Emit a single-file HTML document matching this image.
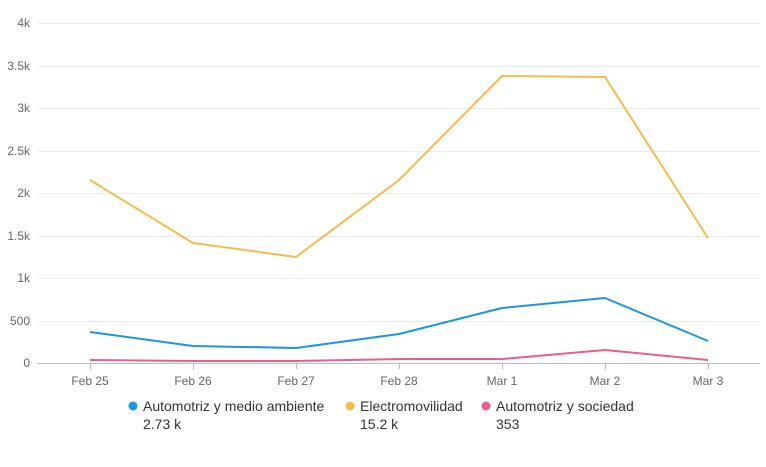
<!DOCTYPE html>
<html><head><style>
body{margin:0;background:#fff;}
svg text{font-family:"Liberation Sans",Arial,sans-serif;}
</style></head><body>
<svg width="766" height="462" xmlns="http://www.w3.org/2000/svg">
<g stroke="#ebebeb" stroke-width="1">
<line x1="38" x2="760" y1="23.5" y2="23.5"/>
<line x1="38" x2="760" y1="66.5" y2="66.5"/>
<line x1="38" x2="760" y1="108.5" y2="108.5"/>
<line x1="38" x2="760" y1="151.5" y2="151.5"/>
<line x1="38" x2="760" y1="193.5" y2="193.5"/>
<line x1="38" x2="760" y1="236.5" y2="236.5"/>
<line x1="38" x2="760" y1="278.5" y2="278.5"/>
<line x1="38" x2="760" y1="321.5" y2="321.5"/>
</g>
<line x1="38" x2="760" y1="363.5" y2="363.5" stroke="#bbb"/>
<g stroke="#bbb">
<line x1="90.5" x2="90.5" y1="363" y2="369"/><line x1="193.5" x2="193.5" y1="363" y2="369"/>
<line x1="296.5" x2="296.5" y1="363" y2="369"/><line x1="399.5" x2="399.5" y1="363" y2="369"/>
<line x1="502.5" x2="502.5" y1="363" y2="369"/><line x1="605.5" x2="605.5" y1="363" y2="369"/>
<line x1="708.5" x2="708.5" y1="363" y2="369"/>
</g>
<g font-size="12" fill="#666" text-anchor="end">
<text x="30" y="27">4k</text><text x="30" y="70">3.5k</text><text x="30" y="112">3k</text>
<text x="30" y="155">2.5k</text><text x="30" y="197">2k</text><text x="30" y="240">1.5k</text>
<text x="30" y="282">1k</text><text x="30" y="325">500</text><text x="30" y="367">0</text>
</g>
<g font-size="12" fill="#666" text-anchor="middle">
<text x="90" y="385">Feb 25</text><text x="193" y="385">Feb 26</text><text x="296" y="385">Feb 27</text>
<text x="399" y="385">Feb 28</text><text x="502" y="385">Mar 1</text><text x="605" y="385">Mar 2</text><text x="708" y="385">Mar 3</text>
</g>
<g fill="none" stroke-width="2" stroke-linejoin="round">
<polyline stroke="#f5bb4b" points="90,180 193,243 296,257 399,180 502,76 605,77 708,238"/>
<polyline stroke="#1a97e0" points="90,332 193,346 296,348 399,334 502,308 605,298 708,341"/>
<polyline stroke="#e95e8c" points="90,360 193,361 296,361 399,359 502,359 605,350 708,360"/>
</g>
<g font-size="14" fill="#333">
<circle cx="133" cy="406" r="4.5" fill="#1a97e0"/>
<text x="143" y="411">Automotriz y medio ambiente</text><text x="143" y="429">2.73 k</text>
<circle cx="350" cy="406" r="4.5" fill="#f5bb4b"/>
<text x="360" y="411">Electromovilidad</text><text x="360" y="429">15.2 k</text>
<circle cx="486" cy="406" r="4.5" fill="#e95e8c"/>
<text x="496" y="411">Automotriz y sociedad</text><text x="496" y="429">353</text>
</g>
</svg>
</body></html>
